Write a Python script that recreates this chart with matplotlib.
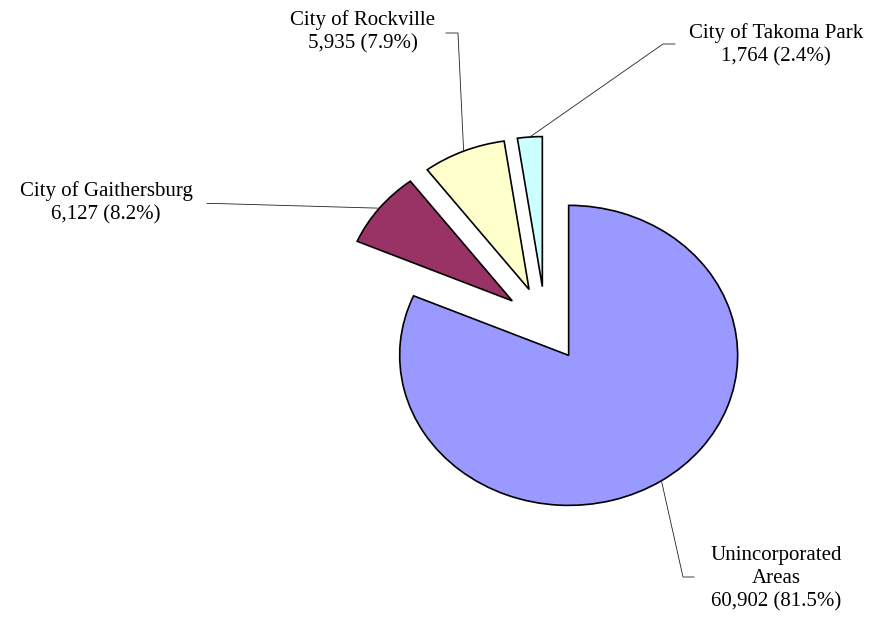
import numpy as np
import matplotlib
matplotlib.use('Agg')
import matplotlib.pyplot as plt

# Population by jurisdiction
areas = ['Unincorporated\nAreas', 'City of Gaithersburg', 'City of Rockville', 'City of Takoma Park']
population = [60902, 6127, 5935, 1764]
colors = ['#9999FF', '#993366', '#FFFFCC', '#CCFFFF']

# label block centres and leader line (end, elbow) points, pixels from top-left
W, H = 877, 617
label_pos = [(776, 579), (106, 203), (363, 32), (776, 45)]
leader_pts = [((694, 577), (683, 577)),
              ((207, 203.5), (216, 203.5)),
              ((446, 33), (458, 33)),
              ((675, 44), (663, 44))]

fig = plt.figure(figsize=(W / 100, H / 100), dpi=100)
ax = fig.add_axes([0, 0, 1, 1])

wedges, _ = ax.pie(population, explode=[0.25] * len(population), colors=colors,
                   startangle=90, counterclock=False,
                   wedgeprops=dict(edgecolor='black', linewidth=1.2))

# the chart is stretched sideways, so the pie is drawn as an ellipse
ax.set_aspect('auto')
ax.set_xlim(-3.228, 1.962)
ax.set_ylim(-1.953, 2.16)
ax.axis('off')


def px(x, y):
    return ax.transData.inverted().transform((x, H - y))


total = sum(population)
for w, name, val, lp, (end, elbow) in zip(wedges, areas, population, label_pos, leader_pts):
    mid = np.deg2rad((w.theta1 + w.theta2) / 2)
    ax_, ay_ = w.center[0] + w.r * np.cos(mid), w.center[1] + w.r * np.sin(mid)
    ex, ey = px(*elbow)
    tx, ty = px(*end)
    ax.plot([ax_, ex, tx], [ay_, ey, ty], color='#222222', lw=0.6)

    x, y = px(*lp)
    ax.text(x, y, f'{name}\n{val:,} ({100 * val / total:.1f}%)',
            ha='center', va='center', fontsize=15, family='Liberation Serif',
            linespacing=1.3)

fig.savefig('out.png', dpi=100)
